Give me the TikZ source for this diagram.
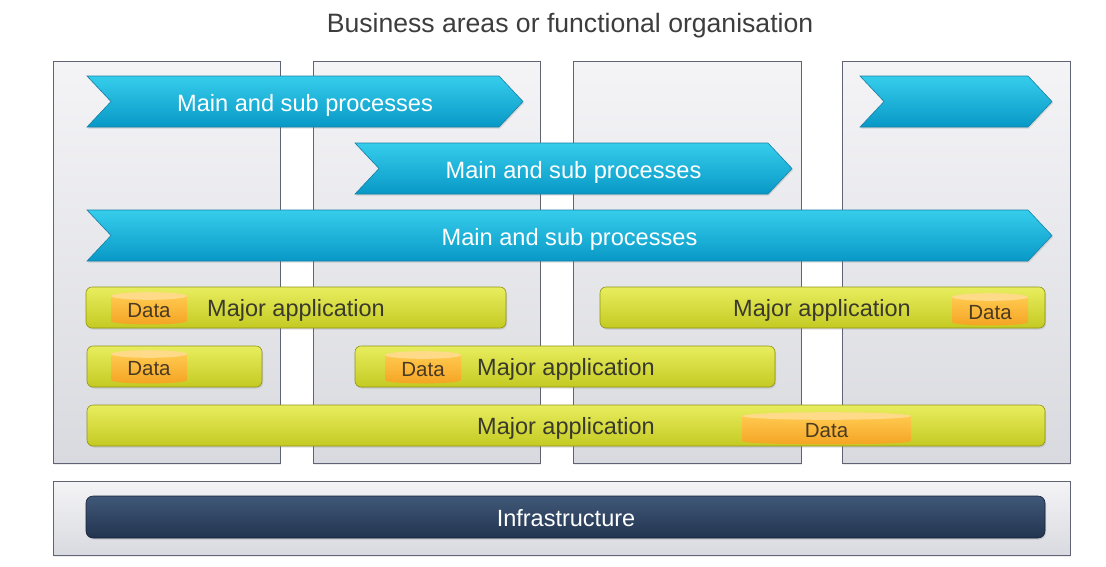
\documentclass[tikz,border=0pt]{standalone}
\usepackage{fontspec}
\setmainfont{Liberation Sans}
\usetikzlibrary{shadows}
\definecolor{panelTop}{HTML}{F4F4F7}
\definecolor{panelBot}{HTML}{D9DADF}
\definecolor{panelEdge}{HTML}{5F6374}
\definecolor{chevTop}{HTML}{36CDEC}
\definecolor{chevBot}{HTML}{0898C6}
\definecolor{chevEdge}{HTML}{1682A8}
\definecolor{appTop}{HTML}{E8ED5E}
\definecolor{appBot}{HTML}{C4CA22}
\definecolor{appEdge}{HTML}{8F9414}
\definecolor{cylTop}{HTML}{FFC94F}
\definecolor{cylBot}{HTML}{F4A322}
\definecolor{cylCap}{HTML}{FFDA88}
\definecolor{infTop}{HTML}{405878}
\definecolor{infBot}{HTML}{22344F}
\definecolor{infEdge}{HTML}{17233A}
\definecolor{titleText}{HTML}{3D3D3D}
\definecolor{appText}{HTML}{3A3A2C}
\definecolor{dataText}{HTML}{4A3A22}
\newcommand\datacyl[6]{%
  \pgfmathsetmacro\dcx{(#2+#3)/2}%
  \pgfmathsetmacro\drx{(#3-#2)/2}%
  \path[cylbody] (#2,#4) -- (#2,#5) .. controls (#2,#5+4.5) and (#3,#5+4.5) .. (#3,#5) -- (#3,#4) -- cycle;
  \path[cylcap] (\dcx,#4) ellipse [x radius=\drx, y radius=3.8];
  \node[datalbl] (#1) at (\dcx,#6) {Data};
}
\begin{document}
\begin{tikzpicture}[x=1pt,y=-1pt,
  panel/.style={draw=panelEdge, line width=0.8pt, top color=panelTop, bottom color=panelBot,
    drop shadow={opacity=0.15, shadow xshift=1pt, shadow yshift=-1.5pt}, inner sep=0pt, outer sep=0pt, anchor=north west},
  chev/.style={draw=chevEdge, line width=0.6pt, top color=chevTop, bottom color=chevBot,
    drop shadow={opacity=0.25, shadow xshift=1pt, shadow yshift=-1.5pt}},
  app/.style={draw=appEdge, line width=0.6pt, rounded corners=6pt, top color=appTop, bottom color=appBot,
    drop shadow={opacity=0.25, shadow xshift=1pt, shadow yshift=-1.5pt}, inner sep=0pt, outer sep=0pt, anchor=north west},
  cylbody/.style={top color=cylTop, bottom color=cylBot},
  cylcap/.style={fill=cylCap},
  chevlbl/.style={font=\fontsize{23.6}{28}\selectfont, text=white, inner sep=0pt, anchor=base},
  applbl/.style={font=\fontsize{23.5}{28}\selectfont, text=appText, inner sep=0pt, anchor=base},
  datalbl/.style={font=\fontsize{20.5}{24}\selectfont, text=dataText, inner sep=0pt, anchor=base},
  infra/.style={draw=infEdge, line width=0.6pt, rounded corners=7pt, top color=infTop, bottom color=infBot,
    drop shadow={opacity=0.25, shadow xshift=1pt, shadow yshift=-1.5pt}, inner sep=0pt, outer sep=0pt, anchor=north west}
]
\useasboundingbox (0,0) rectangle (1106,566);
\fill[white] (0,0) rectangle (1106,566);

% title
\node[font=\fontsize{26.6}{30}\selectfont, text=titleText, inner sep=0pt, anchor=base] (title) at (570,32.7) {Business areas or functional organisation};

% columns
\node[panel, minimum width=227pt, minimum height=402pt] (col1) at (53,61) {};
\node[panel, minimum width=227pt, minimum height=402pt] (col2) at (313,61) {};
\node[panel, minimum width=228pt, minimum height=402pt] (col3) at (573,61) {};
\node[panel, minimum width=228pt, minimum height=402pt] (col4) at (842,61) {};

% infrastructure panel
\node[panel, minimum width=1017pt, minimum height=74pt] (infpanel) at (53,481) {};
\node[infra, minimum width=959pt, minimum height=42pt] (infbar) at (86,496) {};
\node[chevlbl, font=\fontsize{23.5}{28}\selectfont] (inflbl) at (566,526.7) {Infrastructure};

% chevrons
\path[chev] (87,76) -- (499,76) -- (523,101.5) -- (499,127) -- (87,127) -- (111,101.5) -- cycle;
\node[chevlbl] (chev1) at (305,111.7) {Main and sub processes};
\path[chev] (860,76) -- (1028,76) -- (1052,101.5) -- (1028,127) -- (860,127) -- (884,101.5) -- cycle;
\coordinate (chev4) at (956,101.5);
\path[chev] (355,143) -- (768,143) -- (792,168.5) -- (768,194) -- (355,194) -- (379,168.5) -- cycle;
\node[chevlbl] (chev2) at (573.5,178.7) {Main and sub processes};
\path[chev] (87,210) -- (1028,210) -- (1052,235.5) -- (1028,261) -- (87,261) -- (111,235.5) -- cycle;
\node[chevlbl] (chev3) at (569.5,245.7) {Main and sub processes};

% applications
\node[app, minimum width=420pt, minimum height=41pt] (app1) at (86,287) {};
\node[app, minimum width=445pt, minimum height=41pt] (app2) at (600,287) {};
\node[app, minimum width=175pt, minimum height=41pt] (app3) at (87,346) {};
\node[app, minimum width=420pt, minimum height=41pt] (app4) at (355,346) {};
\node[app, minimum width=958pt, minimum height=41pt] (app5) at (87,405) {};

\node[applbl] (app1lbl) at (296,316.7) {Major application};
\node[applbl] (app2lbl) at (822,316.7) {Major application};
\node[applbl] (app4lbl) at (566,375.7) {Major application};
\node[applbl] (app5lbl) at (566,434.7) {Major application};

% data stores
\datacyl{data1}{111}{187}{296}{321}{317}
\datacyl{data2}{952}{1028}{297}{322}{319.3}
\datacyl{data3}{111}{187}{354}{380}{375.5}
\datacyl{data4}{385}{461}{355}{380}{376}
\datacyl{data5}{742}{911}{416}{441}{437.3}
\end{tikzpicture}
\end{document}
